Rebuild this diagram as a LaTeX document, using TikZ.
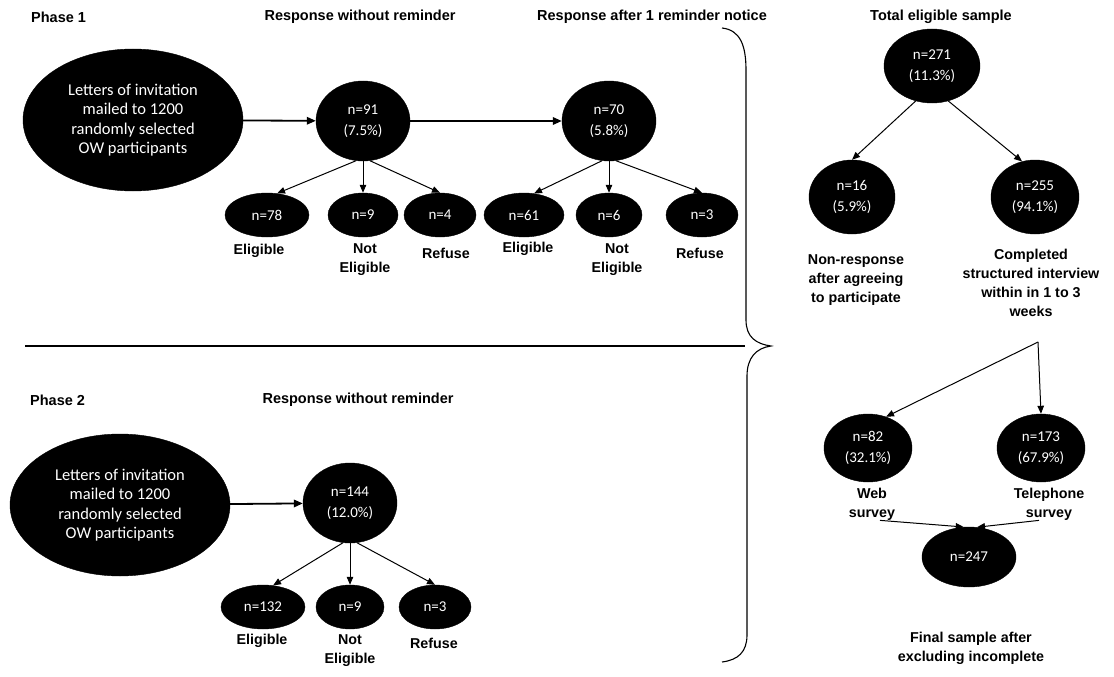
\documentclass[tikz,border=0pt]{standalone}
\usepackage{fontspec}
\setmainfont{Liberation Sans}
\newfontfamily\nodefont{Carlito}
\usetikzlibrary{shapes.geometric,arrows.meta}
\begin{document}
\begin{tikzpicture}[x=1pt,y=-1pt,
  blob/.style={ellipse,fill=black,draw=black,inner sep=0pt,text=white,
    font=\nodefont\fontsize{15}{21}\selectfont,align=center},
  big/.style={blob,minimum width=220pt,minimum height=142pt,
    font=\nodefont\fontsize{16.5}{19.5}\selectfont},
  mid/.style={blob,minimum width=94pt,minimum height=80pt},
  kid/.style={blob,minimum height=44pt},
  lab/.style={font=\fontsize{14.3}{19}\selectfont\bfseries,align=center,inner sep=0pt},
  hdr/.style={font=\fontsize{14.5}{17}\selectfont\bfseries,inner sep=0pt},
  arr/.style={-{Triangle[length=8pt,width=6.5pt]},line width=1pt},
  harr/.style={-{Triangle[length=9pt,width=7.5pt]},line width=1.8pt}]
\useasboundingbox[fill=white] (0,0) rectangle (1114,677);

% headers
\node[hdr,anchor=west] (h1) at (31,17) {Phase 1};
\node[hdr] (h2) at (360,17) {Response without reminder};
\node[hdr] (h3) at (652,17) {Response after 1 reminder notice};
\node[hdr] (h4) at (941,17) {Total eligible sample};

% phase 1
\node[big] (e1) at (133,120) {Letters of invitation\\mailed to 1200\\randomly selected\\OW participants};
\node[mid] (n91) at (363,121) {n=91\\(7.5\%)};
\node[mid] (n70) at (609,121) {n=70\\(5.8\%)};
\node[kid,minimum width=84pt] (n78) at (267,215) {n=78};
\node[kid,minimum width=70pt] (n9a) at (363,215) {n=9};
\node[kid,minimum width=72pt] (n4) at (440,215) {n=4};
\node[kid,minimum width=80pt] (n61) at (524,215) {n=61};
\node[kid,minimum width=66pt] (n6) at (609,215) {n=6};
\node[kid,minimum width=72pt] (n3a) at (702,215) {n=3};
\node[lab] (l78) at (259,251) {Eligible};
\node[lab] (l9a) at (365,260) {Not\\Eligible};
\node[lab] (l4) at (446,253) {Refuse};
\node[lab] (l61) at (528,249) {Eligible};
\node[lab] (l6) at (617,260) {Not\\Eligible};
\node[lab] (l3a) at (700,253) {Refuse};

\draw[harr] (e1) -- (n91);
\draw[harr] (n91) -- (n70);
\draw[arr] (n91.-100) -- (n78.65);
\draw[arr] (n91.south) -- (n9a.north);
\draw[arr] (n91.-80) -- (n4.north);
\draw[arr] (n70.-100) -- (n61.65);
\draw[arr] (n70.south) -- (n6.north);
\draw[arr] (n70.-80) -- (n3a.north);

% separator and brace
\draw[line width=1.1pt] (25,346) -- (745,346);
\draw[line width=1.1pt] (722,28) .. controls (740,30) and (746,45) .. (746,70)
  -- (746,320) .. controls (746,337) and (756,344) .. (771,346)
  .. controls (756,348) and (747,358) .. (747,376)
  -- (747,635) .. controls (747,652) and (738,660) .. (722,662);

% phase 2
\node[hdr,anchor=west] (h5) at (30,400) {Phase 2};
\node[hdr] (h6) at (358,400) {Response without reminder};
\node[big] (e2) at (120,505) {Letters of invitation\\mailed to 1200\\randomly selected\\OW participants};
\node[mid] (n144) at (350,503) {n=144\\(12.0\%)};
\node[kid,minimum width=84pt] (n132) at (263,607) {n=132};
\node[kid,minimum width=68pt] (n9b) at (350,607) {n=9};
\node[kid,minimum width=72pt] (n3b) at (435,607) {n=3};
\node[lab] (l132) at (262,641) {Eligible};
\node[lab] (l9b) at (350,651) {Not\\Eligible};
\node[lab] (l3b) at (434,643) {Refuse};
\draw[harr] (e2) -- (n144);
\draw[arr] (n144.-100) -- (n132.65);
\draw[arr] (n144.south) -- (n9b.north);
\draw[arr] (n144.-80) -- (n3b.north);

% right column
\node[mid,minimum width=96pt,minimum height=74pt] (n271) at (932,66) {n=271\\(11.3\%)};
\node[mid,minimum width=86pt,minimum height=74pt] (n16) at (852,197) {n=16\\(5.9\%)};
\node[mid,minimum width=88pt,minimum height=74pt] (n255) at (1035,197) {n=255\\(94.1\%)};
\node[lab] (l16) at (856,280) {Non-response\\after agreeing\\to participate};
\node[lab] (l255) at (1031,283) {Completed\\structured interview\\within in 1 to 3\\weeks};
\draw[arr] (n271.-115) -- (n16.north);
\draw[arr] (n271.-65) -- (n255.110);

\coordinate (jn) at (1038,342);
\node[mid,minimum width=88pt,minimum height=68pt] (n82) at (868,448) {n=82\\(32.1\%)};
\node[mid,minimum width=88pt,minimum height=68pt] (n173) at (1041,448) {n=173\\(67.9\%)};
\node[lab] (lweb) at (872,504) {Web\\survey};
\node[lab] (ltel) at (1049,504) {Telephone\\survey};
\draw[arr] (jn) -- (n82.60);
\draw[arr] (jn) -- (n173.north);

\node[blob,minimum width=94pt,minimum height=60pt] (n247) at (969,557) {n=247};
\node[lab] (lfin) at (971,648) {Final sample after\\excluding incomplete};
\draw[arr] ([xshift=8pt]lweb.south) -- (n247.100);
\draw[arr] ([xshift=-10pt]ltel.south) -- (n247.75);
\end{tikzpicture}
\end{document}
